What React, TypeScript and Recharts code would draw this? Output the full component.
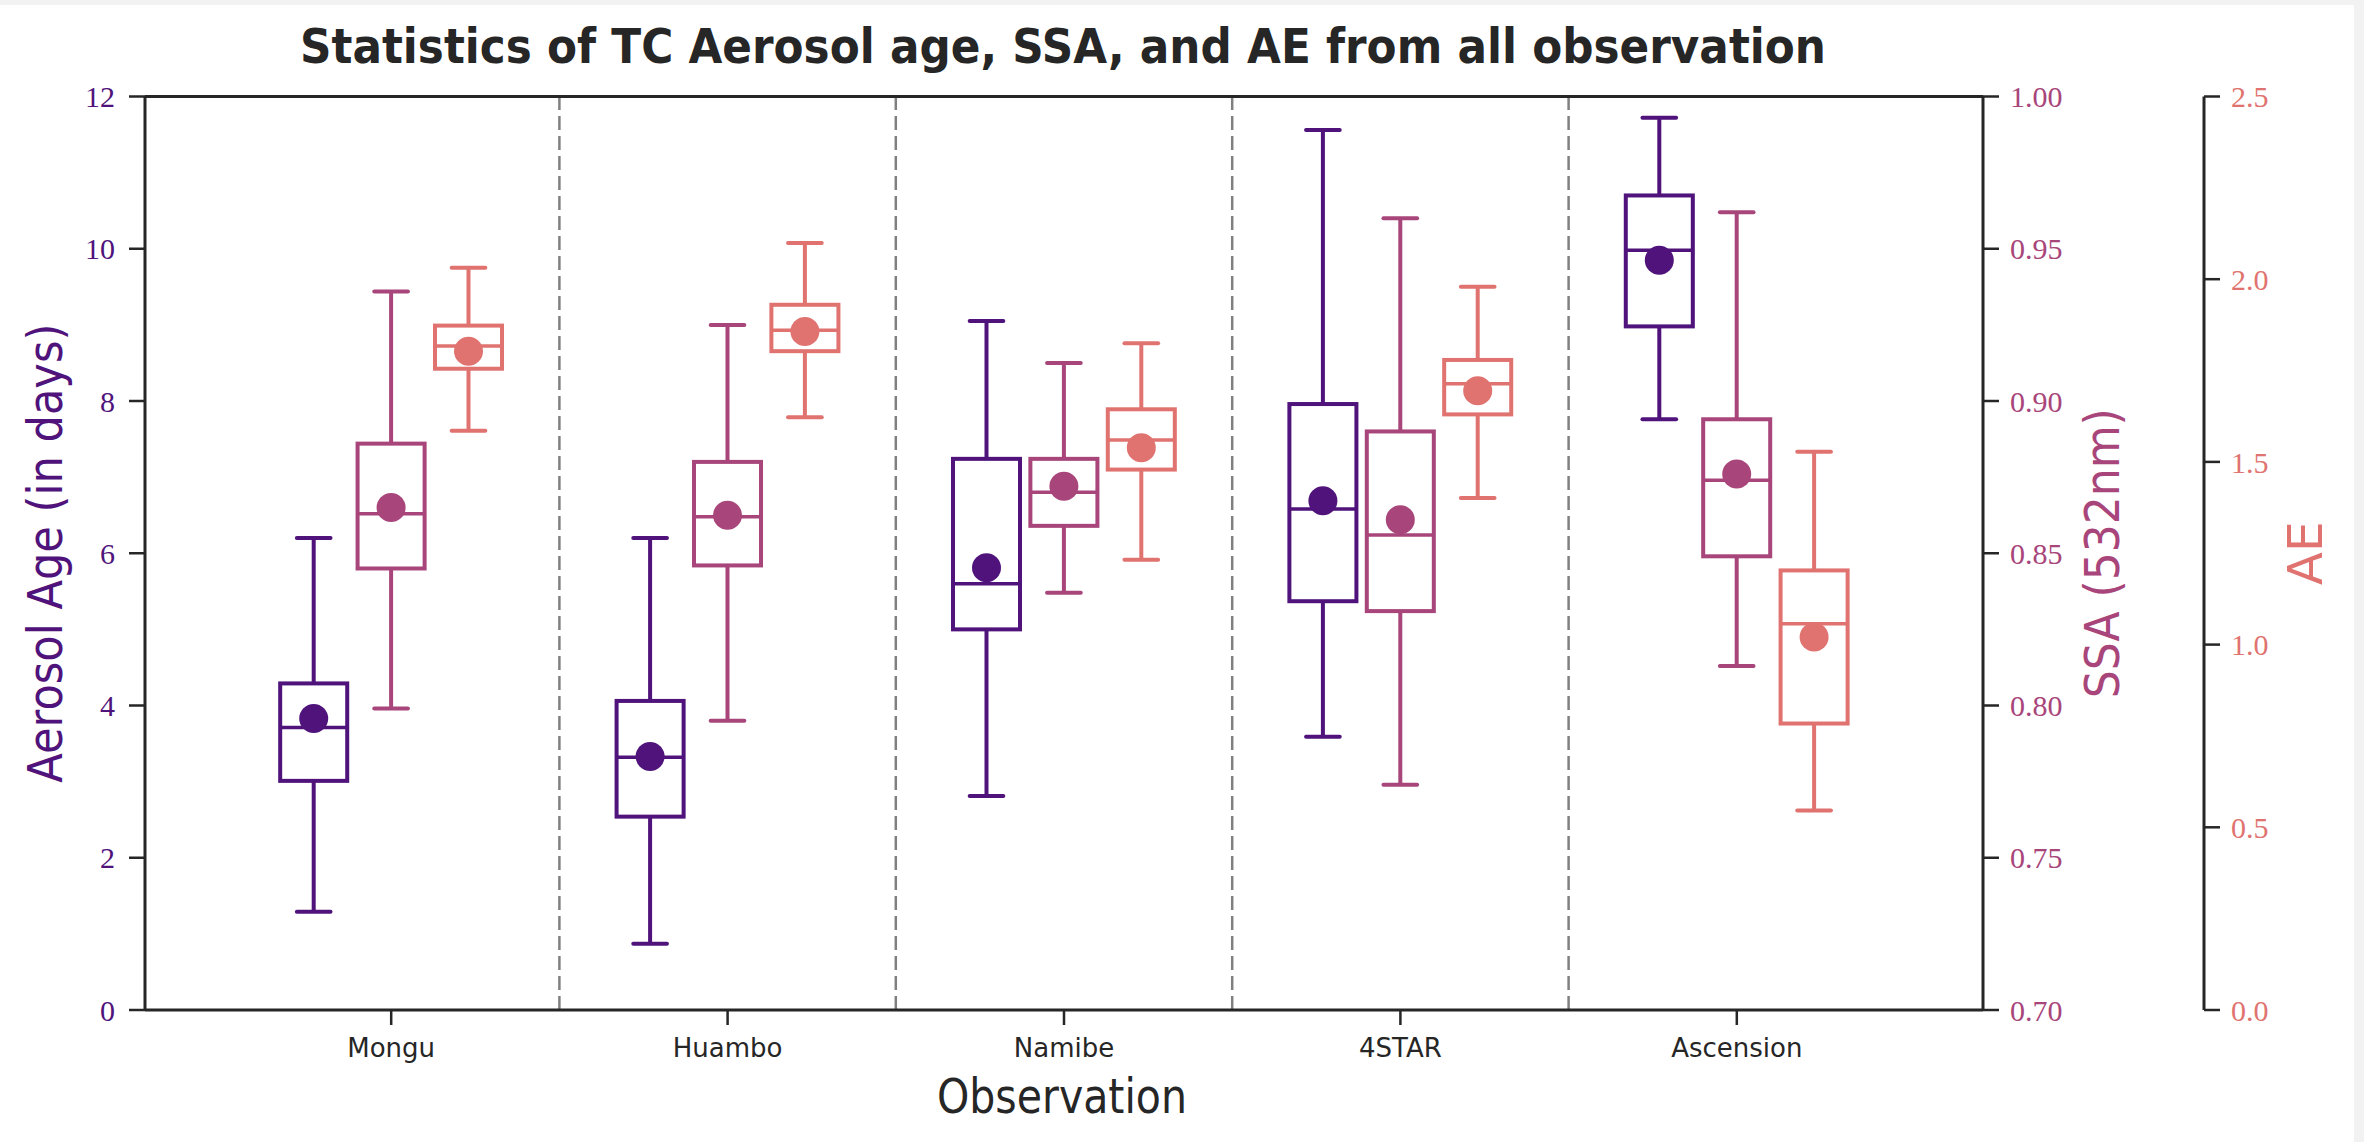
import React from 'react';
import { ComposedChart, Bar, XAxis, YAxis, ReferenceLine, Customized } from 'recharts';

// ---------------- data ----------------
const stations = ['Mongu', 'Huambo', 'Namibe', '4STAR', 'Ascension'];

// Aerosol age (days)
const ageLow = [1.29, 0.87, 2.81, 3.59, 7.76];
const ageQ1 = [3.01, 2.54, 5.0, 5.37, 8.98];
const ageMedian = [3.71, 3.32, 5.6, 6.58, 9.98];
const ageQ3 = [4.29, 4.06, 7.24, 7.96, 10.7];
const ageHigh = [6.2, 6.2, 9.05, 11.56, 11.72];
const ageMean = [3.83, 3.33, 5.81, 6.69, 9.85];

// SSA (532nm)
const ssaLow = [0.799, 0.795, 0.837, 0.774, 0.813];
const ssaQ1 = [0.845, 0.846, 0.859, 0.831, 0.849];
const ssaMedian = [0.863, 0.862, 0.87, 0.856, 0.874];
const ssaQ3 = [0.886, 0.88, 0.881, 0.89, 0.894];
const ssaHigh = [0.936, 0.925, 0.9125, 0.96, 0.962];
const ssaMean = [0.865, 0.8625, 0.872, 0.861, 0.876];

// AE
const aeLow = [1.585, 1.622, 1.232, 1.401, 0.546];
const aeQ1 = [1.755, 1.803, 1.479, 1.63, 0.784];
const aeMedian = [1.817, 1.86, 1.56, 1.714, 1.057];
const aeQ3 = [1.873, 1.93, 1.644, 1.779, 1.203];
const aeHigh = [2.031, 2.099, 1.825, 1.979, 1.528];
const aeMean = [1.803, 1.857, 1.539, 1.695, 1.021];

const ageTicks = [0, 2, 4, 6, 8, 10, 12];
const ssaTicks = [0.7, 0.75, 0.8, 0.85, 0.9, 0.95, 1.0];
const aeTicks = [0, 0.5, 1.0, 1.5, 2.0, 2.5];
// dashed separators sit at the start of every station band but the first
const dividerStations = stations.slice(1);

// ---------------- styling / layout ----------------
const COLOR_AGE = '#4f137b';
const COLOR_SSA = '#a8457a';
const COLOR_AE = '#e07370';
const INK = '#262626';

const W = 2364;
const H = 1142;
const PLOT_LEFT = 145;
const PLOT_RIGHT = 1983;
const PLOT_TOP = 96.5;
const PLOT_BOTTOM = 1010;
const AGE_AXIS_W = 100;
const SSA_AXIS_W = 221;
const AE_AXIS_W = 100;
const X_AXIS_H = 60;
const CAT_PAD = 78;
const SLOT = 77.4;
const BOX_RATIO = 0.866;
const CAP_RATIO = 0.435;
const SW = 4;
const MEAN_R = 14.5;

// axis ids (sorted order decides which right axis sits next to the plot)
const ID_AGE = 'y0age';
const ID_SSA = 'y1ssa';
const ID_AE = 'y2ae';

type Stats = { low: number; q1: number; median: number; q3: number; high: number; mean: number };

const rows = stations.map((station, i) => {
  const age: Stats = { low: ageLow[i], q1: ageQ1[i], median: ageMedian[i], q3: ageQ3[i], high: ageHigh[i], mean: ageMean[i] };
  const ssa: Stats = { low: ssaLow[i], q1: ssaQ1[i], median: ssaMedian[i], q3: ssaQ3[i], high: ssaHigh[i], mean: ssaMean[i] };
  const ae: Stats = { low: aeLow[i], q1: aeQ1[i], median: aeMedian[i], q3: aeQ3[i], high: aeHigh[i], mean: aeMean[i] };
  return {
    station,
    age,
    ssa,
    ae,
    ageRange: [age.low, age.high],
    ssaRange: [ssa.low, ssa.high],
    aeRange: [ae.low, ae.high],
  };
});

function BoxGlyph(props: any) {
  const { x, y, width, height, stats, color } = props;
  if (!stats || x == null || y == null) return null;
  const top = Math.min(y, y + height);
  const bottom = Math.max(y, y + height);
  const span = stats.high - stats.low;
  const py = (v: number) => bottom - ((v - stats.low) / span) * (bottom - top);
  const cx = x + width / 2;
  const bw = width * BOX_RATIO;
  const cw = width * CAP_RATIO;
  return (
    <g>
      <line x1={cx} x2={cx} y1={py(stats.q3)} y2={py(stats.high)} stroke={color} strokeWidth={SW} />
      <line x1={cx} x2={cx} y1={py(stats.q1)} y2={py(stats.low)} stroke={color} strokeWidth={SW} />
      <line x1={cx - cw / 2} x2={cx + cw / 2} y1={py(stats.high)} y2={py(stats.high)} stroke={color} strokeWidth={SW} strokeLinecap="round" />
      <line x1={cx - cw / 2} x2={cx + cw / 2} y1={py(stats.low)} y2={py(stats.low)} stroke={color} strokeWidth={SW} strokeLinecap="round" />
      <rect x={cx - bw / 2} y={py(stats.q3)} width={bw} height={py(stats.q1) - py(stats.q3)} fill="none" stroke={color} strokeWidth={SW} />
      <line x1={cx - bw / 2} x2={cx + bw / 2} y1={py(stats.median)} y2={py(stats.median)} stroke={color} strokeWidth={SW - 0.5} />
      <circle cx={cx} cy={py(stats.mean)} r={MEAN_R} fill={color} />
    </g>
  );
}

function Labels() {
  const sans = "'DejaVu Sans', 'Noto Sans', sans-serif";
  const midY = (PLOT_TOP + PLOT_BOTTOM) / 2;
  return (
    <g>
      <text x={1063} y={63} textAnchor="middle" fontFamily={sans} fontWeight="bold" fontSize={48} fill={INK} textLength={1526} lengthAdjust="spacingAndGlyphs">
        Statistics of TC Aerosol age, SSA, and AE from all observation
      </text>
      <text x={1062} y={1113} textAnchor="middle" fontFamily={sans} fontSize={48} fill={INK} textLength={250} lengthAdjust="spacingAndGlyphs">
        Observation
      </text>
      <text x={61.7} y={midY} transform={`rotate(-90 61.7 ${midY})`} textAnchor="middle" fontFamily={sans} fontSize={48} fill={COLOR_AGE} textLength={459} lengthAdjust="spacingAndGlyphs">
        Aerosol Age (in days)
      </text>
      <text x={2119} y={midY} transform={`rotate(-90 2119 ${midY})`} textAnchor="middle" fontFamily={sans} fontSize={48} fill={COLOR_SSA} textLength={290} lengthAdjust="spacingAndGlyphs">
        SSA (532nm)
      </text>
      <text x={2321.5} y={midY} transform={`rotate(-90 2321.5 ${midY})`} textAnchor="middle" fontFamily={sans} fontSize={48} fill={COLOR_AE} textLength={64} lengthAdjust="spacingAndGlyphs">
        AE
      </text>
    </g>
  );
}

export default function App() {
  const serif = "'Liberation Serif', 'DejaVu Serif', serif";
  const axisLine = { stroke: INK, strokeWidth: 3 };
  const tickLine = { stroke: INK, strokeWidth: 2.5 };
  return (
    <div style={{ position: 'absolute', left: 0, top: 0, width: W, height: H, background: '#f2f2f2' }}>
      <div style={{ position: 'absolute', left: 0, top: 5, width: 2354, height: H - 5, background: '#ffffff' }} />
      <div style={{ position: 'absolute', left: 0, top: 0 }}>
        <ComposedChart
          width={W}
          height={H}
          data={rows}
          barSize={SLOT}
          barGap={0}
          margin={{
            top: PLOT_TOP,
            left: PLOT_LEFT - AGE_AXIS_W,
            right: W - PLOT_RIGHT - SSA_AXIS_W - AE_AXIS_W,
            bottom: H - PLOT_BOTTOM - X_AXIS_H,
          }}
        >
          <XAxis
            xAxisId="cat"
            dataKey="station"
            type="category"
            height={X_AXIS_H}
            padding={{ left: CAT_PAD, right: CAT_PAD }}
            axisLine={axisLine}
            tickLine={tickLine}
            tickSize={15}
            tickMargin={14}
            interval={0}
            tick={{ fill: INK, fontSize: 26, fontFamily: "'DejaVu Sans', sans-serif" }}
          />
          <YAxis
            yAxisId={ID_AGE}
            orientation="left"
            width={AGE_AXIS_W}
            domain={[0, 12]}
            ticks={ageTicks}
            interval={0}
            allowDataOverflow
            axisLine={axisLine}
            tickLine={tickLine}
            tickSize={16}
            tickMargin={14}
            tick={{ fill: COLOR_AGE, fontSize: 30, fontFamily: serif }}
          />
          <YAxis
            yAxisId={ID_SSA}
            orientation="right"
            width={SSA_AXIS_W}
            domain={[0.7, 1.0]}
            ticks={ssaTicks}
            interval={0}
            allowDataOverflow
            axisLine={axisLine}
            tickLine={tickLine}
            tickSize={16}
            tickMargin={11}
            tickFormatter={(v: number) => v.toFixed(2)}
            tick={{ fill: COLOR_SSA, fontSize: 30, fontFamily: serif }}
          />
          <YAxis
            yAxisId={ID_AE}
            orientation="right"
            width={AE_AXIS_W}
            domain={[0, 2.5]}
            ticks={aeTicks}
            interval={0}
            allowDataOverflow
            axisLine={axisLine}
            tickLine={tickLine}
            tickSize={16}
            tickMargin={11}
            tickFormatter={(v: number) => v.toFixed(1)}
            tick={{ fill: COLOR_AE, fontSize: 30, fontFamily: serif }}
          />
          {dividerStations.map((s) => (
            <ReferenceLine key={s} x={s} position="start" xAxisId="cat" yAxisId={ID_AGE} stroke="#808080" strokeWidth={2.5} strokeDasharray="14 6" />
          ))}
          <ReferenceLine y={12} xAxisId="cat" yAxisId={ID_AGE} stroke={INK} strokeWidth={3} />
          <Bar
            xAxisId="cat"
            yAxisId={ID_AGE}
            dataKey="ageRange"
            isAnimationActive={false}
            shape={(p: any) => <BoxGlyph {...p} stats={p.payload.age} color={COLOR_AGE} />}
          />
          <Bar
            xAxisId="cat"
            yAxisId={ID_SSA}
            dataKey="ssaRange"
            isAnimationActive={false}
            shape={(p: any) => <BoxGlyph {...p} stats={p.payload.ssa} color={COLOR_SSA} />}
          />
          <Bar
            xAxisId="cat"
            yAxisId={ID_AE}
            dataKey="aeRange"
            isAnimationActive={false}
            shape={(p: any) => <BoxGlyph {...p} stats={p.payload.ae} color={COLOR_AE} />}
          />
          <Customized component={Labels} />
        </ComposedChart>
      </div>
    </div>
  );
}
